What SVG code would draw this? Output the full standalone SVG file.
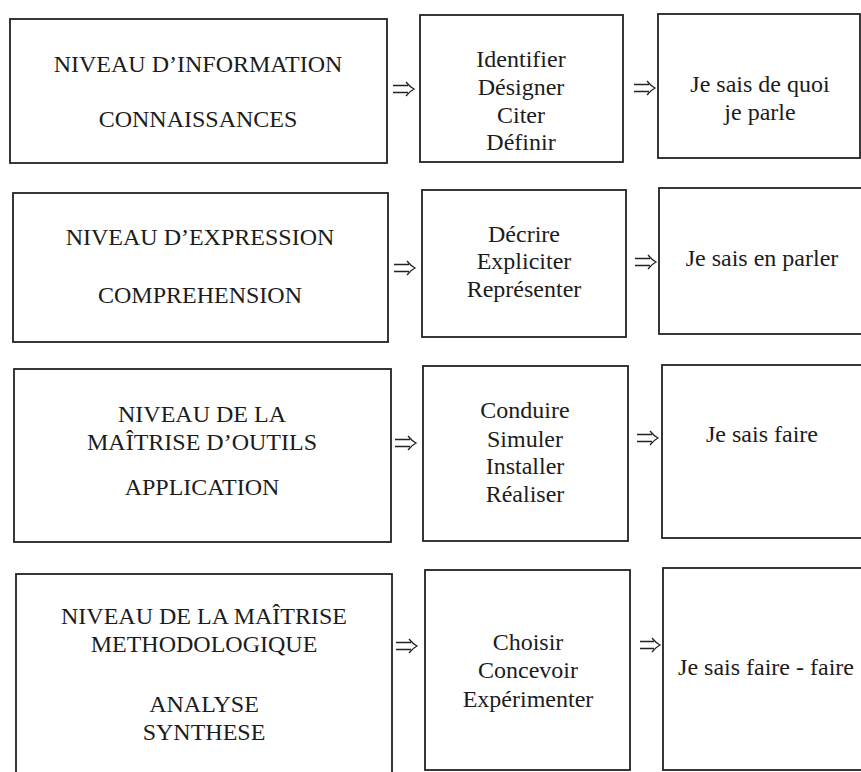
<svg xmlns="http://www.w3.org/2000/svg" width="861" height="772" viewBox="0 0 861 772">
<style>
rect.box{fill:#fff;stroke:#222;stroke-width:1.8}
text{font-family:"Liberation Serif","Times New Roman",serif;font-size:24px;fill:#1c1c1c;text-anchor:middle}
.arrow{fill:none;stroke:#222;stroke-width:1.3}
</style>
<rect width="861" height="772" fill="#fff"/>
<g id="row1-level">
<rect class="box" x="10" y="19" width="377" height="144"/>
<text x="198" y="72">NIVEAU D’INFORMATION</text>
<text x="198" y="127">CONNAISSANCES</text>
</g>
<g id="row1-verbs">
<rect class="box" x="420" y="15" width="203" height="147"/>
<text x="521" y="67">Identifier</text>
<text x="521" y="95">Désigner</text>
<text x="521" y="123">Citer</text>
<text x="521" y="150">Définir</text>
</g>
<g id="row1-result">
<rect class="box" x="658" y="14" width="202" height="144"/>
<text x="760" y="92">Je sais de quoi</text>
<text x="760" y="120">je parle</text>
</g>
<g id="row2-level">
<rect class="box" x="13" y="193" width="375" height="149"/>
<text x="200" y="245">NIVEAU D’EXPRESSION</text>
<text x="200" y="303">COMPREHENSION</text>
</g>
<g id="row2-verbs">
<rect class="box" x="422" y="190" width="204" height="147"/>
<text x="524" y="242">Décrire</text>
<text x="524" y="269">Expliciter</text>
<text x="524" y="297">Représenter</text>
</g>
<g id="row2-result">
<rect class="box" x="659" y="188" width="206" height="146"/>
<text x="762" y="266">Je sais en parler</text>
</g>
<g id="row3-level">
<rect class="box" x="14" y="369" width="377" height="173"/>
<text x="202" y="422">NIVEAU DE LA</text>
<text x="202" y="450">MAÎTRISE D’OUTILS</text>
<text x="202" y="495">APPLICATION</text>
</g>
<g id="row3-verbs">
<rect class="box" x="423" y="366" width="205" height="175"/>
<text x="525" y="418">Conduire</text>
<text x="525" y="447">Simuler</text>
<text x="525" y="474">Installer</text>
<text x="525" y="502">Réaliser</text>
</g>
<g id="row3-result">
<rect class="box" x="662" y="365" width="203" height="173"/>
<text x="762" y="442">Je sais faire</text>
</g>
<g id="row4-level">
<rect class="box" x="16" y="574" width="376" height="204"/>
<text x="204" y="624">NIVEAU DE LA MAÎTRISE</text>
<text x="204" y="652">METHODOLOGIQUE</text>
<text x="204" y="712">ANALYSE</text>
<text x="204" y="740">SYNTHESE</text>
</g>
<g id="row4-verbs">
<rect class="box" x="425" y="570" width="205" height="200"/>
<text x="528" y="650">Choisir</text>
<text x="528" y="678">Concevoir</text>
<text x="528" y="707">Expérimenter</text>
</g>
<g id="row4-result">
<rect class="box" x="663" y="568" width="202" height="202"/>
<text x="766" y="675">Je sais faire - faire</text>
</g>
<g id="connectors" class="arrow">
<path d="M393 85.5H408M393 92.5H408M406 82Q410 87 414 89Q410 91 406 96"/>
<path d="M634 84.5H649M634 91.5H649M647 81Q651 86 655 88Q651 90 647 95"/>
<path d="M394 264.5H409M394 271.5H409M407 261Q411 266 415 268Q411 270 407 275"/>
<path d="M635 258.5H650M635 265.5H650M648 255Q652 260 656 262Q652 264 648 269"/>
<path d="M395 439.5H410M395 446.5H410M408 436Q412 441 416 443Q412 445 408 450"/>
<path d="M637 434.5H652M637 441.5H652M650 431Q654 436 658 438Q654 440 650 445"/>
<path d="M396 642.5H411M396 649.5H411M409 639Q413 644 417 646Q413 648 409 653"/>
<path d="M640 641.5H654M640 648.5H654M652 638Q656 643 660 645Q656 647 652 652"/>
</g>
</svg>
